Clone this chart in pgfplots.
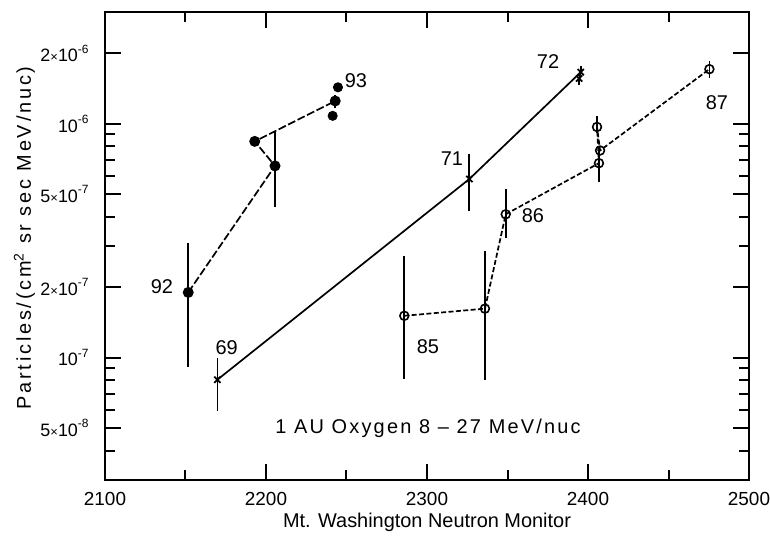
\documentclass[border=0pt]{standalone}
\usepackage{pgfplots}
\pgfplotsset{compat=1.18}
\usepackage{pgfplotstable}
\usepackage{fontspec}
\setmainfont{Liberation Sans}
\newfontfamily\ylabfont[LetterSpace=14]{Liberation Sans}
\newfontfamily\notefont[LetterSpace=11]{Liberation Sans}
\newcommand{\pw}[1]{10\raisebox{0.9ex}{\fontsize{6}{6}\selectfont #1}}
\newcommand{\sci}[2]{#1{\fontsize{6.5}{6.5}\selectfont ×}\pw{#2}}

% solar minimum 1992-93 (filled circles)
\pgfplotstableread{
x y ep em
2151.7 1.90e-7 1.20e-7 0.99e-7
2205.6 6.60e-7 2.60e-7 2.20e-7
2193.0 8.40e-7 0 0
2243.0 1.25e-6 0.08e-6 0.08e-6
}\minA
\pgfplotstableread{
x y ep em
2244.7 1.43e-6 0 0
2241.4 1.08e-6 0 0
}\minAextra
% 1969-72 (crosses)
\pgfplotstableread{
x y ep em
2169.8 8.05e-8 1.95e-8 2.15e-8
2326.3 5.80e-7 1.60e-7 1.56e-7
2395.5 1.66e-6 0.10e-6 0
2394.5 1.56e-6 0 0.10e-6
}\minB
% 1985-87 (open circles)
\pgfplotstableread{
x y ep em
2285.9 1.51e-7 1.20e-7 0.70e-7
2336.0 1.62e-7 1.23e-7 0.82e-7
2348.9 4.10e-7 1.16e-7 0.86e-7
2406.8 6.78e-7 0.88e-7 1.14e-7
2405.6 9.68e-7 1.10e-7 0.60e-7
2407.5 7.68e-7 0 0
2475.4 1.71e-6 0.14e-6 0.15e-6
}\minC

\begin{document}
\fontsize{10}{12}\selectfont
\begin{tikzpicture}
\begin{axis}[
  scale only axis,
  width=322bp, height=234bp,
  xmin=2100, xmax=2500,
  ymode=log, ymin=3e-8, ymax=3e-6,
  axis line style={line width=1.2bp},
  every tick/.style={black, line width=1bp},
  major tick length=8bp, minor tick length=5bp,
  xtick={2100,2200,2300,2400,2500},
  xticklabels={2100,2200,2300,2400,2500},
  minor x tick num=1,
  ytick={5e-8,1e-7,2e-7,5e-7,1e-6,2e-6},
  yticklabels={\sci{5}{-8},\pw{-7},\sci{2}{-7},\sci{5}{-7},\pw{-6},\sci{2}{-6}},
  minor ytick={4e-8,6e-8,7e-8,8e-8,9e-8,3e-7,4e-7,6e-7,7e-7,8e-7,9e-7},
  xticklabel style={inner sep=0pt, font=\fontsize{9.5}{11}\selectfont},
  yticklabel style={inner sep=0pt, font=\fontsize{9}{11}\selectfont},
  xticklabel shift=6bp,
  yticklabel shift=8bp,
  xlabel={Mt. Washington Neutron Monitor},
  ylabel={\ylabfont Particles/(cm\textsuperscript{2} sr sec MeV/nuc)},
  xlabel style={at={(axis description cs:0.5,-0.09)}, anchor=center},
  ylabel style={at={(axis description cs:-0.125,0.517)}, anchor=center},
  clip=false,
  error bars/y dir=both, error bars/y explicit,
  error bars/error mark=none,
  error bars/error bar style={line width=0.85bp, solid},
]
\addplot[black, line width=0.85bp, dash pattern=on 4bp off 1.3bp,
  mark=*, mark size=2.3bp, mark options={solid}]
  table[x=x, y=y, y error plus=ep, y error minus=em] {\minA};
\addplot[black, only marks, mark=*, mark size=2.3bp]
  table[x=x, y=y] {\minAextra};
\addplot[black, line width=0.85bp, mark=x, mark size=2.2bp]
  table[x=x, y=y, y error plus=ep, y error minus=em] {\minB};
\addplot[black, line width=0.85bp, dash pattern=on 2.5bp off 1.2bp,
  mark=o, mark size=2.2bp, mark options={solid, line width=0.8bp}]
  table[x=x, y=y, y error plus=ep, y error minus=em] {\minC};

\node at (axis cs:2255.9,1.53e-6) {93};
\node at (axis cs:2135.4,2.02e-7) {92};
\node at (axis cs:2175.6,1.10e-7) {69};
\node at (axis cs:2315.5,7.08e-7) {71};
\node at (axis cs:2375.2,1.845e-6) {72};
\node at (axis cs:2365.8,4.03e-7) {86};
\node at (axis cs:2300.6,1.115e-7) {85};
\node at (axis cs:2480.1,1.23e-6) {87};
\node at (axis cs:2300.6,5.0e-8) {\notefont 1 AU Oxygen 8 – 27 MeV/nuc};
\end{axis}
\pgfresetboundingbox
\path ([shift={(-52.5bp,-28.5bp)}]current axis.south west)
  rectangle ([shift={(10.5bp,6bp)}]current axis.north east);
\end{tikzpicture}
\end{document}
